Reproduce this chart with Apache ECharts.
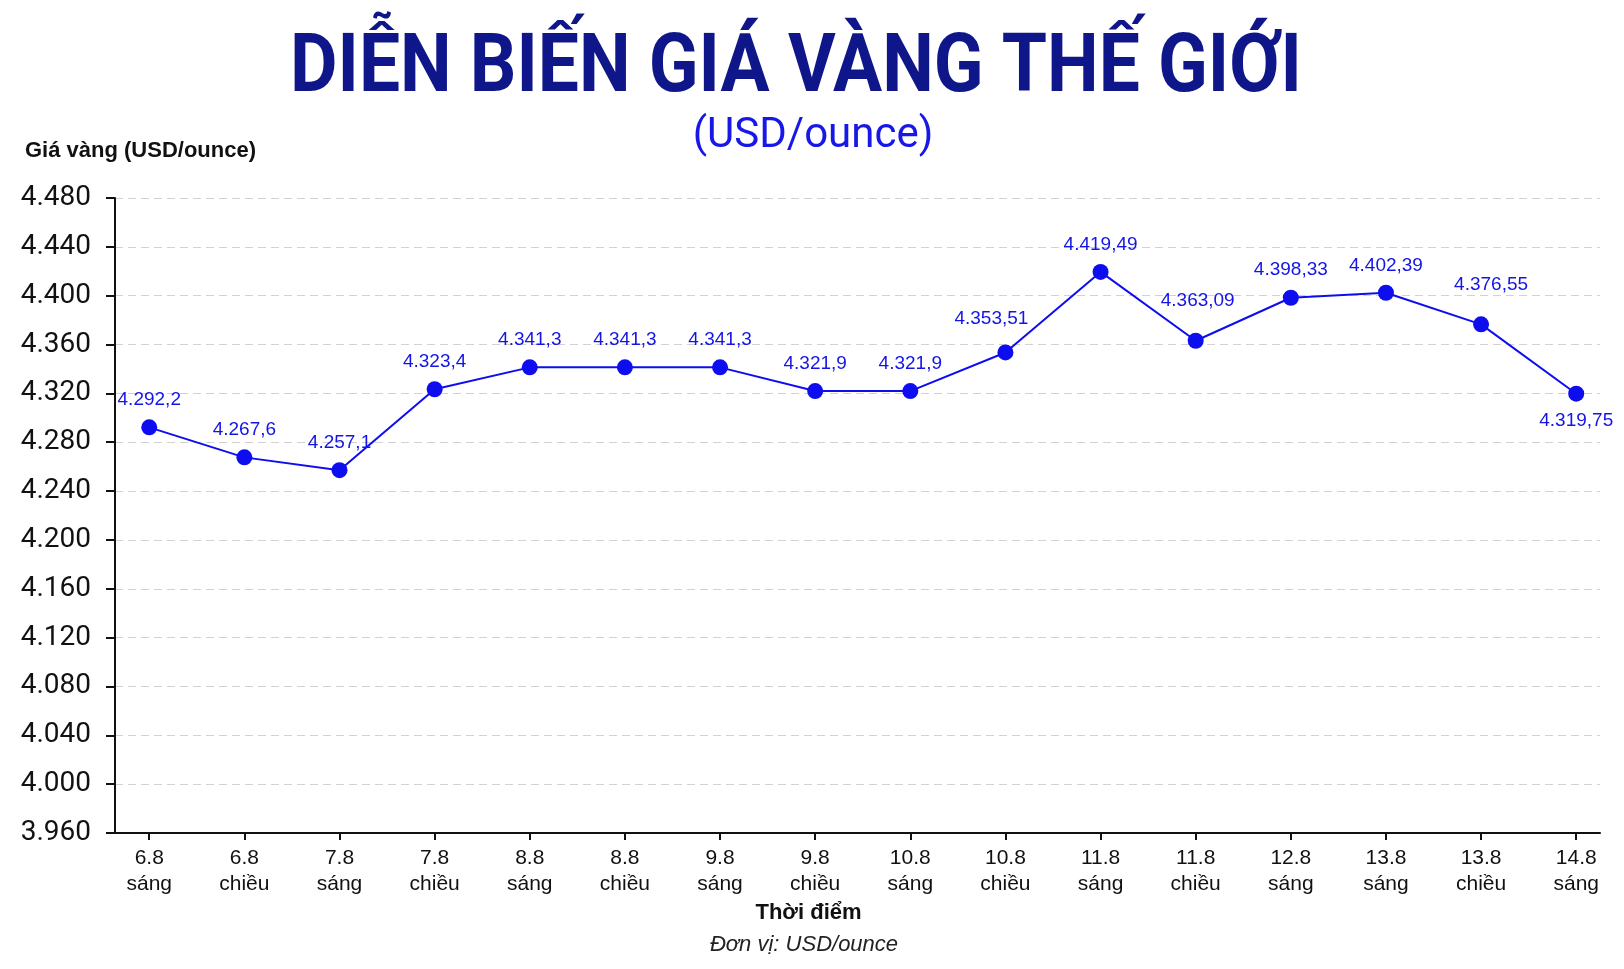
<!DOCTYPE html>
<html>
<head>
<meta charset="utf-8">
<script src="https://cdn.jsdelivr.net/npm/echarts@6/dist/echarts.min.js"></script>
<style>
  html, body { margin: 0; padding: 0; background: #fff; }
  #chart { width: 1624px; height: 969px; }
</style>
</head>
<body>
<div id="chart"></div>
<script>
// ngày + buổi cho từng thời điểm
const days = ['6.8', '6.8', '7.8', '7.8', '8.8', '8.8', '9.8', '9.8',
  '10.8', '10.8', '11.8', '11.8', '12.8', '13.8', '13.8', '14.8']
const sessions = ['sáng', 'chiều', 'sáng', 'chiều', 'sáng', 'chiều', 'sáng', 'chiều',
  'sáng', 'chiều', 'sáng', 'chiều', 'sáng', 'sáng', 'chiều', 'sáng']
// giá vàng thế giới (USD/ounce)
const prices = [4292.2, 4267.6, 4257.1, 4323.4, 4341.3, 4341.3, 4341.3, 4321.9,
  4321.9, 4353.51, 4419.49, 4363.09, 4398.33, 4402.39, 4376.55, 4319.75]

const TITLE = 'DIỄN BIẾN GIÁ VÀNG THẾ GIỚI'
const SANS = "'Liberation Sans', Arial, sans-serif"
const ROBOTO = "Roboto, 'Liberation Sans', sans-serif"
const BLUE = '#0d0df0'

// 4292.2 -> "4.292,2"
function viNumber(v) {
  const parts = String(v).split('.')
  const int = parts[0].replace(/\B(?=(\d{3})+(?!\d))/g, '.')
  return parts[1] ? int + ',' + parts[1] : int
}

// tiêu đề trong ảnh gốc là chữ hẹp -> ép ngang cho vừa bề rộng
const titleFont = 'bold 82px ' + ROBOTO
const measure = document.createElement('canvas').getContext('2d')
measure.font = titleFont
const titleScale = 1012 / measure.measureText(TITLE).width

const idx = prices.map((_, i) => i)

// vị trí nhãn riêng cho vài điểm
const labelTweak = {
  9: { offset: [-14, -6] },
  11: { offset: [2, -12] },
  14: { offset: [10, -12] },
  15: { position: 'bottom' }
}

const seriesData = prices.map((v, i) => {
  const item = { value: [i, v] }
  if (labelTweak[i]) item.label = labelTweak[i]
  return item
})

const chart = echarts.init(document.getElementById('chart'))

const option = {
  backgroundColor: '#fff',
  animation: false,
  graphic: [
    {
      type: 'text',
      x: 796,
      y: 70,
      scaleX: Math.min(1, titleScale),
      style: {
        text: TITLE,
        font: titleFont,
        fill: '#0e168a',
        align: 'center',
        verticalAlign: 'middle'
      }
    }
  ],
  title: [
    {
      text: '(USD/ounce)',
      left: 813, top: 115, textAlign: 'center', padding: 0,
      textStyle: { fontFamily: ROBOTO, fontWeight: 'normal', fontSize: 42, color: '#1717e8' }
    },
    {
      text: 'Giá vàng (USD/ounce)',
      left: 25, top: 140, padding: 0,
      textStyle: { fontFamily: SANS, fontWeight: 'bold', fontSize: 22, color: '#111' }
    },
    {
      text: 'Đơn vị: USD/ounce',
      left: 804, top: 934, textAlign: 'center', padding: 0,
      textStyle: { fontFamily: SANS, fontWeight: 'normal', fontStyle: 'italic', fontSize: 22, color: '#222' }
    }
  ],
  grid: { left: 115, right: 24, top: 198, bottom: 136, outerBoundsMode: 'none' },
  xAxis: {
    type: 'value',
    min: -0.36,
    max: 15.25,
    name: 'Thời điểm',
    nameLocation: 'middle',
    nameGap: 69,
    nameMoveOverlap: false,
    nameTextStyle: {
      fontFamily: SANS, fontWeight: 'bold', fontSize: 22, color: '#111',
      padding: [0, 98, 0, 0]
    },
    axisLine: { show: true, onZero: false, lineStyle: { color: '#111', width: 2 } },
    axisTick: { show: true, customValues: idx, length: 7, lineStyle: { color: '#111', width: 2 } },
    axisLabel: {
      customValues: idx,
      formatter: v => days[v] + '\n' + sessions[v],
      fontFamily: SANS, fontSize: 21, lineHeight: 26, color: '#111', margin: 12
    },
    splitLine: { show: false }
  },
  yAxis: {
    type: 'value',
    min: 3960,
    max: 4480,
    interval: 40,
    axisLine: { show: true, onZero: false, lineStyle: { color: '#111', width: 2 } },
    axisTick: { show: true, length: 9, lineStyle: { color: '#111', width: 2 } },
    axisLabel: {
      formatter: v => (v / 1000).toFixed(3),
      fontFamily: ROBOTO, fontSize: 28, color: '#111', margin: 24
    },
    splitLine: { show: true, lineStyle: { type: [8, 5], color: '#d2d2d2', width: 1 } }
  },
  series: [
    {
      type: 'line',
      data: seriesData,
      symbol: 'circle',
      symbolSize: 16,
      lineStyle: { color: BLUE, width: 2 },
      itemStyle: { color: BLUE },
      label: {
        show: true,
        position: 'top',
        distance: 10,
        formatter: p => viNumber(p.value[1]),
        fontFamily: SANS, fontSize: 19, color: '#1414e6'
      }
    }
  ]
}

chart.setOption(option)
</script>
</body>
</html>
